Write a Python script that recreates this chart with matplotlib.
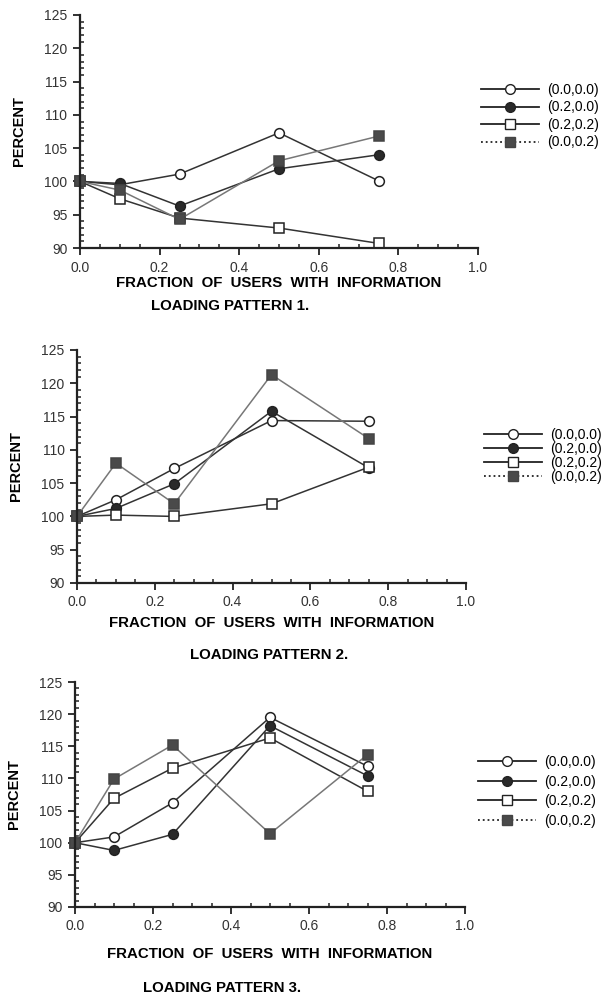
import matplotlib.pyplot as plt
from matplotlib.lines import Line2D
from matplotlib.ticker import MultipleLocator

plt.rcParams['font.family'] = ['Liberation Sans', 'DejaVu Sans']

# fraction of users with information
x = [0.0, 0.1, 0.25, 0.5, 0.75]

labels = ['(0.0,0.0)', '(0.2,0.0)', '(0.2,0.2)', '(0.0,0.2)']

# loading pattern 1
p1_00 = [100, 99.5, 101.1, 107.3, 100.1]
p1_20 = [100, 99.7, 96.3, 101.9, 104.0]
p1_22 = [100, 97.4, 94.5, 93.0, 90.7]
p1_02 = [100, 98.7, 94.3, 103.1, 106.8]

# loading pattern 2
p2_00 = [100, 102.5, 107.2, 114.4, 114.3]
p2_20 = [100, 101.2, 104.9, 115.8, 107.3]
p2_22 = [100, 100.2, 100.0, 101.9, 107.4]
p2_02 = [100, 108.0, 101.9, 121.3, 111.7]

# loading pattern 3
p3_00 = [100, 100.9, 106.2, 119.5, 111.9]
p3_20 = [100, 98.8, 101.3, 118.2, 110.4]
p3_22 = [100, 106.9, 111.6, 116.3, 108.0]
p3_02 = [100, 109.9, 115.2, 101.4, 113.7]

patterns = [
    ('LOADING PATTERN 1.', [p1_00, p1_20, p1_22, p1_02]),
    ('LOADING PATTERN 2.', [p2_00, p2_20, p2_22, p2_02]),
    ('LOADING PATTERN 3.', [p3_00, p3_20, p3_22, p3_02]),
]

# marker, face colour, line colour for each series
styles = [
    dict(marker='o', mfc='white', mec='#222222', color='#333333', ls='-'),
    dict(marker='o', mfc='#2a2a2a', mec='#222222', color='#333333', ls='-'),
    dict(marker='s', mfc='white', mec='#222222', color='#333333', ls='-'),
    dict(marker='s', mfc='#4a4a4a', mec='#444444', color='#777777', ls=':'),
]

W, H = 610, 1000
# axes boxes in pixels: left, top, right, bottom
boxes = [(80, 15, 478, 248), (77, 350, 466, 583), (75, 682, 465, 907)]
legend_xy = [(481, 83), (484, 428), (478, 755)]
legend_gap = [0.25, 0.0, 0.4]
xlabel_pad = [1, 5, 10]
title_xy = [(230, 306), (269, 655), (222, 988)]

fig = plt.figure(figsize=(W / 100, H / 100), dpi=100)

for i, (title, series) in enumerate(patterns):
    l, t, r, b = boxes[i]
    ax = fig.add_axes([l / W, 1 - b / H, (r - l) / W, (b - t) / H])
    for ys, st in zip(series, styles):
        ax.plot(x, ys, marker=st['marker'], markerfacecolor=st['mfc'],
                markeredgecolor=st['mec'], color=st['color'],
                markersize=7, markeredgewidth=1.1, linewidth=1.1,
                clip_on=False)

    ax.set_xlim(0, 1)
    ax.set_ylim(90, 125)
    ax.xaxis.set_major_locator(MultipleLocator(0.2))
    ax.xaxis.set_minor_locator(MultipleLocator(0.05))
    ax.yaxis.set_major_locator(MultipleLocator(5))
    ax.yaxis.set_minor_locator(MultipleLocator(1))
    ax.xaxis.set_major_formatter(lambda v, pos: f'{v:.1f}')
    for side in ('top', 'right'):
        ax.spines[side].set_visible(False)
    for side in ('left', 'bottom'):
        ax.spines[side].set_linewidth(1.6)
        ax.spines[side].set_color('#222222')
    ax.tick_params(which='major', direction='out', length=5, width=1.3,
                   color='#222222', labelsize=10, labelcolor='#333333', pad=4)
    ax.tick_params(which='minor', direction='in', length=3, width=1.1,
                   color='#222222')

    ax.set_ylabel('PERCENT', fontsize=10.5, fontweight='bold', labelpad=13)
    ax.set_xlabel('FRACTION  OF  USERS  WITH  INFORMATION', fontsize=10.8,
                  fontweight='bold', labelpad=xlabel_pad[i])

    handles = [Line2D([], [], marker=st['marker'], markerfacecolor=st['mfc'],
                      markeredgecolor=st['mec'], color='#222222',
                      linestyle=st['ls'], markersize=7, linewidth=1.3)
               for st in styles]
    lx, ly = legend_xy[i]
    fig.legend(handles, labels, loc='upper left',
               bbox_to_anchor=(lx / W, 1 - ly / H), frameon=False,
               fontsize=10, handlelength=4.2, handletextpad=0.55,
               labelspacing=legend_gap[i], borderaxespad=0, borderpad=0)

    tx, ty = title_xy[i]
    fig.text(tx / W, 1 - ty / H, title, ha='center', va='center',
             fontsize=10.8, fontweight='bold')

fig.savefig('out.png', dpi=100)
